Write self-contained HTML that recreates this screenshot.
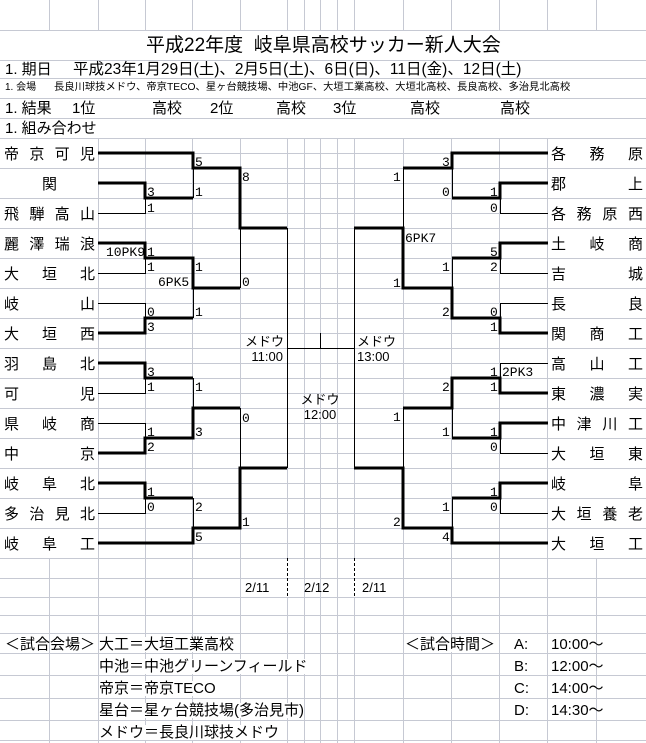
<!DOCTYPE html>
<html><head><meta charset="utf-8"><style>
html,body{margin:0;padding:0;background:#fff;}
body{width:646px;height:743px;position:relative;overflow:hidden;font-family:"Liberation Sans","Noto Sans CJK JP",sans-serif;color:#000;}
.t{position:absolute;white-space:nowrap;line-height:1;}
.nm{position:absolute;display:flex;justify-content:space-between;font-size:15px;line-height:1;}
.nm.c{justify-content:center;}
.s{position:absolute;font-family:"Liberation Mono","Noto Sans CJK JP",monospace;font-size:13px;line-height:1;}
</style></head><body>
<svg width="646" height="743" style="position:absolute;left:0;top:0" xmlns="http://www.w3.org/2000/svg">
<g stroke="#c6c9d3" stroke-width="1" shape-rendering="crispEdges">
<path d="M49.5,0V30M98.5,0V30M145.5,0V30M192.5,0V30M240.5,0V30M287.5,0V30M304.5,0V30M320.5,0V30M337.5,0V30M354.5,0V30M403.5,0V30M451.5,0V30M499.5,0V30M547.5,0V30M596.5,0V30"/>
<path d="M0,30.5H646M0,60.5H646M0,78.5H646M0,98.5H646M0,118.5H646M0,138.5H646"/>
<path d="M98.5,138V558M145.5,138V558M192.5,138V558M240.5,138V558M287.5,138V558M304.5,138V558M320.5,138V558M337.5,138V558M354.5,138V558M403.5,138V558M451.5,138V558M499.5,138V558M547.5,138V558"/>
<path d="M98,153.5H548M98,168.5H548M98,183.5H548M98,198.5H548M98,213.5H548M98,228.5H548M98,243.5H548M98,258.5H548M98,273.5H548M98,288.5H548M98,303.5H548M98,318.5H548M98,333.5H548M98,348.5H548M98,363.5H548M98,378.5H548M98,393.5H548M98,408.5H548M98,423.5H548M98,438.5H548M98,453.5H548M98,468.5H548M98,483.5H548M98,498.5H548M98,513.5H548M98,528.5H548M98,543.5H548"/>
<path d="M0,168.5H98M0,198.5H98M0,228.5H98M0,258.5H98M0,288.5H98M0,318.5H98M0,348.5H98M0,378.5H98M0,408.5H98M0,438.5H98M0,468.5H98M0,498.5H98M0,528.5H98M548,168.5H646M548,198.5H646M548,228.5H646M548,258.5H646M548,288.5H646M548,318.5H646M548,348.5H646M548,378.5H646M548,408.5H646M548,438.5H646M548,468.5H646M548,498.5H646M548,528.5H646"/>
<path d="M0,558.5H646M0,578.5H646M0,597.5H646M0,615.5H646M0,633.5H646M0,653.5H646M0,675.5H646M0,698.5H646M0,720.5H646M0,740.5H646"/>
<path d="M49.5,558V743M98.5,558V743M145.5,558V743M192.5,558V743M240.5,558V743M304.5,558V743M320.5,558V743M337.5,558V743M403.5,558V743M451.5,558V743M499.5,558V743M547.5,558V743M596.5,558V743M287.5,597V743M354.5,597V743"/>
</g>
<g fill="none" stroke="#000" stroke-width="1" shape-rendering="crispEdges">
<path d="M98,213.5H145.5V198M193.5,168V198M98,273.5H145.5V258M240.5,228V288M98,303.5H145.5V318M193.5,288V318M98,393.5H145.5V378M193.5,378V408M98,423.5H145.5V438M98,513.5H145.5V498M193.5,498V528M240.5,408V468"/>
<path d="M287.5,228V468M354.5,228V468M287,348.5H354M320.5,333V348"/>
<path d="M403.5,168V228M548,213.5H500.5V198M452.5,168V198M548,273.5H500.5V258M452.5,258V288M548,303.5H500.5V318M548,363.5H500.5V378M452.5,408V438M548,453.5H500.5V438M403.5,408V468M548,513.5H500.5V498M452.5,498V528"/>
<path d="M287.5,558V597M354.5,558V597" stroke-dasharray="3,2"/>
</g>
<g fill="none" stroke="#000" stroke-width="3" stroke-linejoin="miter">
<path d="M98,153H193V168H240V228H287"/>
<path d="M98,183H145V198H193"/>
<path d="M98,243H145V258H193V288H240"/>
<path d="M98,333H145V318H193"/>
<path d="M98,363H145V378H193"/>
<path d="M98,453H145V438H193V408H240"/>
<path d="M98,483H145V498H193"/>
<path d="M98,543H193V528H240V468H287"/>
<path d="M548,153H452V168H403"/>
<path d="M548,183H500V198H452"/>
<path d="M548,243H500V258H452"/>
<path d="M548,333H500V318H452V288H403V228H354"/>
<path d="M548,393H500V378H452V408H403"/>
<path d="M548,423H500V438H452"/>
<path d="M548,483H500V498H452"/>
<path d="M548,543H452V528H403V468H354"/>
</g>
</svg>

<div class="t" style="left:146px;top:36px;font-size:19px;">平成22年度&nbsp;&nbsp;岐阜県高校サッカー新人大会</div>
<div class="t" style="left:5px;top:62px;font-size:15px;">1. 期日</div>
<div class="t" style="left:73px;top:62px;font-size:15.5px;">平成23年1月29日(土)、2月5日(土)、6日(日)、11日(金)、12日(土)</div>
<div class="t" style="left:5px;top:83px;font-size:10px;">1. 会場</div>
<div class="t" style="left:54px;top:83px;font-size:10.3px;">長良川球技メドウ、帝京TECO、星ヶ台競技場、中池GF、大垣工業高校、大垣北高校、長良高校、多治見北高校</div>
<div class="t" style="left:5px;top:101px;font-size:15px;">1. 結果</div>
<div class="t" style="left:72px;top:101px;font-size:15px;">1位</div>
<div class="t" style="left:152px;top:101px;font-size:15px;">高校</div>
<div class="t" style="left:210px;top:101px;font-size:15px;">2位</div>
<div class="t" style="left:276px;top:101px;font-size:15px;">高校</div>
<div class="t" style="left:333px;top:101px;font-size:15px;">3位</div>
<div class="t" style="left:410px;top:101px;font-size:15px;">高校</div>
<div class="t" style="left:500px;top:101px;font-size:15px;">高校</div>
<div class="t" style="left:5px;top:121px;font-size:15px;">1. 組み合わせ</div>

<div class="nm" style="left:4px;width:91px;top:147px;"><span>帝</span><span>京</span><span>可</span><span>児</span></div>
<div class="nm c" style="left:4px;width:91px;top:177px;"><span>関</span></div>
<div class="nm" style="left:4px;width:91px;top:207px;"><span>飛</span><span>騨</span><span>高</span><span>山</span></div>
<div class="nm" style="left:4px;width:91px;top:237px;"><span>麗</span><span>澤</span><span>瑞</span><span>浪</span></div>
<div class="nm" style="left:4px;width:91px;top:267px;"><span>大</span><span>垣</span><span>北</span></div>
<div class="nm" style="left:4px;width:91px;top:297px;"><span>岐</span><span>山</span></div>
<div class="nm" style="left:4px;width:91px;top:327px;"><span>大</span><span>垣</span><span>西</span></div>
<div class="nm" style="left:4px;width:91px;top:357px;"><span>羽</span><span>島</span><span>北</span></div>
<div class="nm" style="left:4px;width:91px;top:387px;"><span>可</span><span>児</span></div>
<div class="nm" style="left:4px;width:91px;top:417px;"><span>県</span><span>岐</span><span>商</span></div>
<div class="nm" style="left:4px;width:91px;top:447px;"><span>中</span><span>京</span></div>
<div class="nm" style="left:4px;width:91px;top:477px;"><span>岐</span><span>阜</span><span>北</span></div>
<div class="nm" style="left:4px;width:91px;top:507px;"><span>多</span><span>治</span><span>見</span><span>北</span></div>
<div class="nm" style="left:4px;width:91px;top:537px;"><span>岐</span><span>阜</span><span>工</span></div>
<div class="nm" style="left:551px;width:92px;top:147px;"><span>各</span><span>務</span><span>原</span></div>
<div class="nm" style="left:551px;width:92px;top:177px;"><span>郡</span><span>上</span></div>
<div class="nm" style="left:551px;width:92px;top:207px;"><span>各</span><span>務</span><span>原</span><span>西</span></div>
<div class="nm" style="left:551px;width:92px;top:237px;"><span>土</span><span>岐</span><span>商</span></div>
<div class="nm" style="left:551px;width:92px;top:267px;"><span>吉</span><span>城</span></div>
<div class="nm" style="left:551px;width:92px;top:297px;"><span>長</span><span>良</span></div>
<div class="nm" style="left:551px;width:92px;top:327px;"><span>関</span><span>商</span><span>工</span></div>
<div class="nm" style="left:551px;width:92px;top:357px;"><span>高</span><span>山</span><span>工</span></div>
<div class="nm" style="left:551px;width:92px;top:387px;"><span>東</span><span>濃</span><span>実</span></div>
<div class="nm" style="left:551px;width:92px;top:417px;"><span>中</span><span>津</span><span>川</span><span>工</span></div>
<div class="nm" style="left:551px;width:92px;top:447px;"><span>大</span><span>垣</span><span>東</span></div>
<div class="nm" style="left:551px;width:92px;top:477px;"><span>岐</span><span>阜</span></div>
<div class="nm" style="left:551px;width:92px;top:507px;"><span>大</span><span>垣</span><span>養</span><span>老</span></div>
<div class="nm" style="left:551px;width:92px;top:537px;"><span>大</span><span>垣</span><span>工</span></div>

<div class="s" style="left:195px;top:156px;">5</div>
<div class="s" style="left:195px;top:186px;">1</div>
<div class="s" style="left:147px;top:186px;">3</div>
<div class="s" style="left:147px;top:202px;">1</div>
<div class="s" style="left:242px;top:171px;">8</div>
<div class="s" style="left:106px;top:246px;">10PK9</div>
<div class="s" style="left:147px;top:246px;">1</div>
<div class="s" style="left:147px;top:261px;">1</div>
<div class="s" style="left:195px;top:261px;">1</div>
<div class="s" style="left:158px;top:276px;">6PK5</div>
<div class="s" style="left:242px;top:276px;">0</div>
<div class="s" style="left:147px;top:306px;">0</div>
<div class="s" style="left:147px;top:321px;">3</div>
<div class="s" style="left:195px;top:306px;">1</div>
<div class="s" style="left:147px;top:366px;">3</div>
<div class="s" style="left:147px;top:381px;">1</div>
<div class="s" style="left:195px;top:381px;">1</div>
<div class="s" style="left:242px;top:412px;">0</div>
<div class="s" style="left:147px;top:426px;">1</div>
<div class="s" style="left:195px;top:426px;">3</div>
<div class="s" style="left:147px;top:441px;">2</div>
<div class="s" style="left:147px;top:486px;">1</div>
<div class="s" style="left:147px;top:501px;">0</div>
<div class="s" style="left:195px;top:501px;">2</div>
<div class="s" style="left:195px;top:531px;">5</div>
<div class="s" style="left:242px;top:516px;">1</div>
<div class="s" style="left:442px;top:156px;">3</div>
<div class="s" style="left:393px;top:171px;">1</div>
<div class="s" style="left:442px;top:186px;">0</div>
<div class="s" style="left:490px;top:186px;">1</div>
<div class="s" style="left:490px;top:202px;">0</div>
<div class="s" style="left:405px;top:232px;">6PK7</div>
<div class="s" style="left:490px;top:246px;">5</div>
<div class="s" style="left:490px;top:261px;">2</div>
<div class="s" style="left:442px;top:261px;">1</div>
<div class="s" style="left:393px;top:277px;">1</div>
<div class="s" style="left:442px;top:306px;">2</div>
<div class="s" style="left:490px;top:306px;">0</div>
<div class="s" style="left:490px;top:321px;">1</div>
<div class="s" style="left:490px;top:366px;">1</div>
<div class="s" style="left:502px;top:366px;">2PK3</div>
<div class="s" style="left:490px;top:381px;">1</div>
<div class="s" style="left:442px;top:381px;">2</div>
<div class="s" style="left:393px;top:411px;">1</div>
<div class="s" style="left:442px;top:426px;">1</div>
<div class="s" style="left:490px;top:426px;">1</div>
<div class="s" style="left:490px;top:441px;">0</div>
<div class="s" style="left:490px;top:486px;">1</div>
<div class="s" style="left:490px;top:501px;">0</div>
<div class="s" style="left:442px;top:501px;">1</div>
<div class="s" style="left:393px;top:516px;">2</div>
<div class="s" style="left:442px;top:531px;">4</div>

<div class="t" style="left:245px;width:38px;text-align:right;top:335px;font-size:13px;">メドウ</div>
<div class="t" style="left:240px;width:43px;text-align:right;top:350px;font-size:13px;">11:00</div>
<div class="t" style="left:357px;top:335px;font-size:13px;">メドウ</div>
<div class="t" style="left:357px;top:350px;font-size:13px;">13:00</div>
<div class="t" style="left:290px;width:60px;text-align:center;top:393px;font-size:13px;">メドウ</div>
<div class="t" style="left:290px;width:60px;text-align:center;top:408px;font-size:13px;">12:00</div>
<div class="t" style="left:245px;top:581px;font-size:13px;">2/11</div>
<div class="t" style="left:304px;top:581px;font-size:13px;">2/12</div>
<div class="t" style="left:362px;top:581px;font-size:13px;">2/11</div>

<div class="t" style="left:5px;top:637px;font-size:15px;">＜試合会場＞</div>
<div class="t" style="left:99px;top:637px;font-size:15px;background:#fff;">大工＝大垣工業高校</div>
<div class="t" style="left:99px;top:659px;font-size:15px;background:#fff;">中池＝中池グリーンフィールド</div>
<div class="t" style="left:99px;top:681px;font-size:15px;background:#fff;">帝京＝帝京TECO</div>
<div class="t" style="left:99px;top:703px;font-size:15px;background:#fff;">星台＝星ヶ台競技場(多治見市)</div>
<div class="t" style="left:99px;top:725px;font-size:15px;background:#fff;">メドウ＝長良川球技メドウ</div>
<div class="t" style="left:405px;top:637px;font-size:15px;background:#fff;">＜試合時間＞</div>
<div class="t" style="left:514px;top:637px;font-size:15px;">A:</div>
<div class="t" style="left:514px;top:659px;font-size:15px;">B:</div>
<div class="t" style="left:514px;top:681px;font-size:15px;">C:</div>
<div class="t" style="left:514px;top:703px;font-size:15px;">D:</div>
<div class="t" style="left:551px;top:637px;font-size:15px;">10:00～</div>
<div class="t" style="left:551px;top:659px;font-size:15px;">12:00～</div>
<div class="t" style="left:551px;top:681px;font-size:15px;">14:00～</div>
<div class="t" style="left:551px;top:703px;font-size:15px;">14:30～</div>
</body></html>
